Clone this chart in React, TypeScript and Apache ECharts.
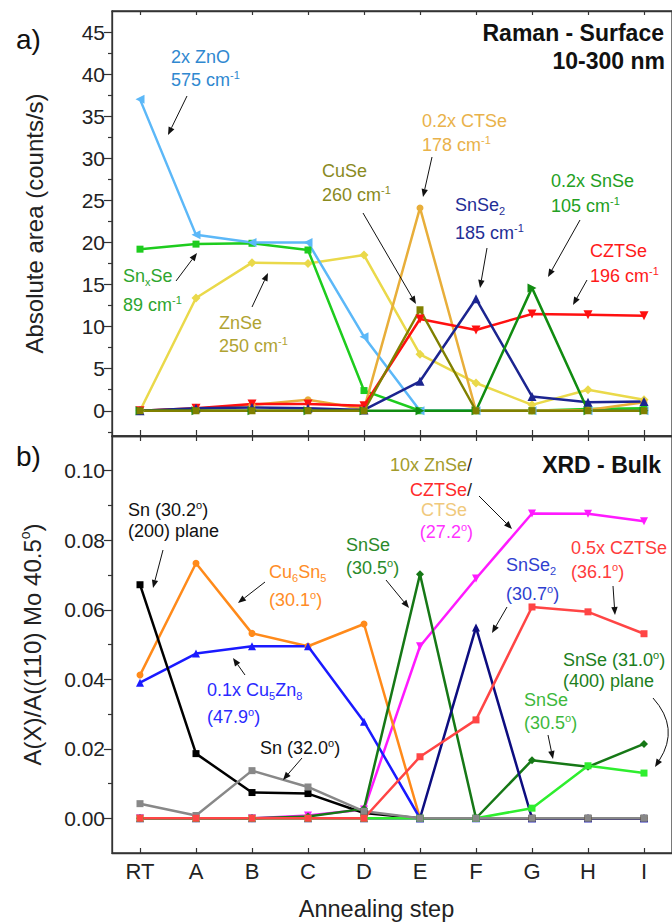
import React, { useEffect, useRef } from 'react';
import * as echarts from 'echarts';

const FONT = 'Arial, "Liberation Sans", Helvetica, sans-serif';

// Categories
const steps = ['RT', 'A', 'B', 'C', 'D', 'E', 'F', 'G', 'H', 'I'];

// a) Raman - Surface (counts/s)
const ramanZnO = [37, 20.9, 20.0, 20.0, 8.8, 0, 0, 0, 0, 0];
const ramanSnxSe = [19.2, 19.8, 19.9, 19.1, 2.4, 0, 0, 0, 0.2, 0.3];
const ramanZnSe = [0, 13.4, 17.6, 17.5, 18.5, 6.7, 3.3, 0.7, 2.5, 1.3];
const ramanCuSe = [0, 0, 0, 0, 0, 12.0, 0, 0, 0, 0];
const ramanCTSe = [0, 0.2, 0.7, 1.3, 0.2, 24.1, 0, 0, 0.1, 1.0];
const ramanSnSe2 = [0, 0.3, 0.4, 0.3, 0.1, 3.5, 13.3, 1.7, 1.0, 1.1];
const ramanSnSe = [0, 0, 0, 0, 0, 0, 0, 14.6, 0, 0];
const ramanCZTSe = [0, 0.3, 0.8, 0.8, 0.6, 10.9, 9.6, 11.5, 11.4, 11.3];

// b) XRD - Bulk (A(X)/A(Mo))
const xrdSn302 = [0.0672, 0.0186, 0.0074, 0.0071, 0.0015, 0, 0, 0, 0, 0];
const xrdSn320 = [0.0042, 0.0008, 0.0137, 0.009, 0.002, 0, 0, 0, 0, 0];
const xrdCu6Sn5 = [0.0412, 0.0734, 0.0532, 0.0495, 0.0559, 0, 0, 0, 0, 0];
const xrdCu5Zn8 = [0.039, 0.0474, 0.0495, 0.0495, 0.0278, 0, 0, 0, 0, 0];
const xrdSnSe305 = [0, 0, 0, 0.0005, 0.0027, 0.0702, 0, 0.0167, 0.0148, 0.0214];
const xrdSnSe2 = [0, 0, 0, 0, 0, 0, 0.0549, 0, 0, 0];
const xrdZnSeCZTSe = [0, 0, 0, 0.0008, 0.0025, 0.0495, 0.069, 0.0877, 0.0876, 0.0855];
const xrdCZTSe361 = [0, 0, 0, 0, 0, 0.0177, 0.0283, 0.0608, 0.0594, 0.0531];
const xrdSnSe310 = [0, 0, 0, 0, 0, 0, 0, 0.0029, 0.0151, 0.013];

// Tick values
const ramanTicks = [0, 5, 10, 15, 20, 25, 30, 35, 40, 45];
const ramanMinorTicks = [-2.5, 2.5, 7.5, 12.5, 17.5, 22.5, 27.5, 32.5, 37.5, 42.5];
const xrdTicks = [0, 0.02, 0.04, 0.06, 0.08, 0.1];
const xrdMinorTicks = [0.01, 0.03, 0.05, 0.07, 0.09];

const AX = '#333';

function richFor(color: string) {
  return {
    n: { fontSize: 18, fill: color, fontFamily: FONT, lineHeight: 22 },
    k: { fontSize: 18, fill: '#222', fontFamily: FONT, lineHeight: 22 },
    sup: { fontSize: 11, fill: color, fontFamily: FONT, verticalAlign: 'top' },
    sub: { fontSize: 11, fill: color, fontFamily: FONT, verticalAlign: 'bottom' },
  };
}

function label(x: number, y: number, text: string, color: string, align = 'left') {
  return {
    type: 'text',
    x,
    y,
    z: 100,
    style: {
      text,
      fill: color,
      fontSize: 18,
      fontFamily: FONT,
      align,
      verticalAlign: 'middle',
      rich: richFor(color),
    },
  };
}

function arrow(x1: number, y1: number, x2: number, y2: number) {
  const ang = Math.atan2(y2 - y1, x2 - x1);
  const head = 8;
  const hw = 3.2;
  const bx = x2 - head * Math.cos(ang);
  const by = y2 - head * Math.sin(ang);
  const px = -Math.sin(ang) * hw;
  const py = Math.cos(ang) * hw;
  return [
    { type: 'line', z: 100, shape: { x1, y1, x2: bx, y2: by }, style: { stroke: '#111', lineWidth: 1 } },
    {
      type: 'polygon',
      z: 100,
      shape: { points: [[x2, y2], [bx + px, by + py], [bx - px, by - py]] },
      style: { fill: '#111' },
    },
  ];
}

function curvedArrow(x1: number, y1: number, cx: number, cy: number, x2: number, y2: number) {
  const ang = Math.atan2(y2 - cy, x2 - cx);
  const head = 8;
  const hw = 3.2;
  const bx = x2 - head * Math.cos(ang);
  const by = y2 - head * Math.sin(ang);
  const px = -Math.sin(ang) * hw;
  const py = Math.cos(ang) * hw;
  return [
    {
      type: 'bezierCurve',
      z: 100,
      shape: { x1, y1, cpx1: cx, cpy1: cy, x2: bx, y2: by },
      style: { stroke: '#111', lineWidth: 1, fill: 'none' },
    },
    {
      type: 'polygon',
      z: 100,
      shape: { points: [[x2, y2], [bx + px, by + py], [bx - px, by - py]] },
      style: { fill: '#111' },
    },
  ];
}

function series(
  name: string,
  data: number[],
  color: string,
  symbol: string,
  panel: number,
  size = 7,
  rotate = 0
) {
  return {
    type: 'line',
    name,
    data,
    xAxisIndex: panel === 0 ? 0 : 2,
    yAxisIndex: panel === 0 ? 0 : 2,
    symbol,
    symbolSize: size,
    symbolRotate: rotate,
    showSymbol: true,
    itemStyle: { color },
    lineStyle: { color, width: 2.5 },
    emphasis: { disabled: true },
  };
}

function catAxis(grid: number, position: string, showLabels: boolean, tickLen: number) {
  return {
    type: 'category',
    gridIndex: grid,
    data: steps,
    position,
    offset: 0,
    boundaryGap: true,
    axisLine: { show: true, onZero: false, lineStyle: { color: AX, width: 1.3 } },
    axisTick: { show: true, inside: true, length: tickLen, alignWithLabel: true, interval: 0, lineStyle: { color: AX, width: 1.2 } },
    axisLabel: { show: showLabels, interval: 0, fontSize: 22, color: '#222', margin: 7, fontFamily: FONT },
    splitLine: { show: false },
  };
}

export default function App() {
  const ref = useRef<HTMLDivElement>(null);

  useEffect(() => {
    const chart = echarts.init(ref.current!, null, { renderer: 'svg' });

    const top = { left: 112, top: 11, width: 566, height: 425 };
    const bot = { left: 112, top: 436, width: 566, height: 425 };

    const graphics: any[] = [
      // panel letters
      { type: 'text', x: 16, y: 39, style: { text: 'a)', fontSize: 28, fontFamily: FONT, fill: '#111', verticalAlign: 'middle' } },
      { type: 'text', x: 16, y: 456, style: { text: 'b)', fontSize: 28, fontFamily: FONT, fill: '#111', verticalAlign: 'middle' } },
      // titles
      { type: 'text', x: 664, y: 33, z: 100, style: { text: 'Raman - Surface', fontSize: 23, fontWeight: 'bold', fontFamily: FONT, fill: '#111', align: 'right', verticalAlign: 'middle' } },
      { type: 'text', x: 665, y: 61, z: 100, style: { text: '10-300 nm', fontSize: 23, fontWeight: 'bold', fontFamily: FONT, fill: '#111', align: 'right', verticalAlign: 'middle' } },
      { type: 'text', x: 661, y: 465, z: 100, style: { text: 'XRD - Bulk', fontSize: 23, fontWeight: 'bold', fontFamily: FONT, fill: '#111', align: 'right', verticalAlign: 'middle' } },

      // a) annotations
      label(171, 57, '{n|2x ZnO}', '#2F88D0'),
      label(171, 80, '{n|575 cm}{sup|-1}', '#2F88D0'),
      label(123, 276, '{n|Sn}{sub|x}{n|Se}', '#2EA52E'),
      label(123, 305, '{n|89 cm}{sup|-1}', '#2EA52E'),
      label(219, 323, '{n|ZnSe}', '#B0A332'),
      label(219, 346, '{n|250 cm}{sup|-1}', '#B0A332'),
      label(322, 171, '{n|CuSe}', '#8A8A1E'),
      label(322, 195, '{n|260 cm}{sup|-1}', '#8A8A1E'),
      label(422, 121, '{n|0.2x CTSe}', '#E9B24A'),
      label(422, 145, '{n|178 cm}{sup|-1}', '#E9B24A'),
      label(455, 205, '{n|SnSe}{sub|2}', '#1F2E96'),
      label(455, 233, '{n|185 cm}{sup|-1}', '#1F2E96'),
      label(551, 181, '{n|0.2x SnSe}', '#23A023'),
      label(551, 206, '{n|105 cm}{sup|-1}', '#23A023'),
      label(590, 251, '{n|CZTSe}', '#FF1A1A'),
      label(590, 276, '{n|196 cm}{sup|-1}', '#FF1A1A'),
      ...arrow(187, 96, 168, 135),
      ...arrow(176, 281, 197, 253),
      ...arrow(252, 307, 268, 273),
      ...arrow(363, 213, 416, 304),
      ...arrow(432, 157, 423, 197),
      ...arrow(487, 248, 480, 288),
      ...arrow(580, 220, 548, 277),
      ...arrow(587, 280, 573, 305),

      // b) annotations
      label(128, 510, '{n|Sn (30.2}{sup|o}{n|)}', '#111'),
      label(128, 531, '{n|(200) plane}', '#111'),
      label(269, 572, '{n|Cu}{sub|6}{n|Sn}{sub|5}', '#FF8C26'),
      label(269, 600, '{n|(30.1}{sup|o}{n|)}', '#FF8C26'),
      label(207, 690, '{n|0.1x Cu}{sub|5}{n|Zn}{sub|8}', '#2A2AFF'),
      label(207, 717, '{n|(47.9}{sup|o}{n|)}', '#2A2AFF'),
      label(260, 748, '{n|Sn (32.0}{sup|o}{n|)}', '#111'),
      label(346, 545, '{n|SnSe}', '#2A8A2A'),
      label(346, 568, '{n|(30.5}{sup|o}{n|)}', '#2A8A2A'),
      label(472, 465, '{n|10x ZnSe}{k|/}', '#A39B2B', 'right'),
      label(472, 490, '{n|CZTSe}{k|/}', '#FF2B2B', 'right'),
      label(467, 510, '{n|CTSe}', '#F0C97C', 'right'),
      label(473, 532, '{n|(27.2}{sup|o}{n|)}', '#FF33FF', 'right'),
      label(506, 565, '{n|SnSe}{sub|2}', '#2F3FD0'),
      label(506, 594, '{n|(30.7}{sup|o}{n|)}', '#2F3FD0'),
      label(571, 548, '{n|0.5x CZTSe}', '#FF3B3B'),
      label(571, 572, '{n|(36.1}{sup|o}{n|)}', '#FF3B3B'),
      label(563, 660, '{n|SnSe (31.0}{sup|o}{n|)}', '#207E20'),
      label(563, 681, '{n|(400) plane}', '#207E20'),
      label(524, 700, '{n|SnSe}', '#3DB83D'),
      label(524, 723, '{n|(30.5}{sup|o}{n|)}', '#3DB83D'),
      ...arrow(163, 550, 153, 588),
      ...arrow(265, 582, 238, 603),
      ...arrow(245, 675, 233, 658),
      ...arrow(302, 758, 283, 780),
      ...arrow(386, 580, 409, 608),
      ...arrow(479, 496, 512, 529),
      ...arrow(507, 607, 492, 633),
      ...arrow(613, 586, 615, 615),
      ...curvedArrow(653, 698, 680, 728, 655, 767),
      ...arrow(548, 735, 553, 759),
    ];

    const option: any = {
      animation: false,
      backgroundColor: '#fff',
      textStyle: { fontFamily: FONT },
      grid: [
        { ...top, containLabel: false, show: true, borderColor: AX, borderWidth: 1.3, backgroundColor: 'transparent' },
        { ...bot, containLabel: false, show: true, borderColor: AX, borderWidth: 1.3, backgroundColor: 'transparent' },
      ],
      xAxis: [
        catAxis(0, 'bottom', false, 6),
        catAxis(0, 'top', false, 4),
        {
          ...catAxis(1, 'bottom', true, 5),
          name: 'Annealing step',
          nameLocation: 'middle',
          nameGap: 44,
          nameTextStyle: { fontSize: 23.5, color: '#222', fontFamily: FONT, padding: [0, 31, 0, 0] },
        },
        catAxis(1, 'top', false, 5),
      ],
      yAxis: [
        {
          type: 'value',
          gridIndex: 0,
          position: 'left',
          min: -3,
          max: 47.5,
          axisLine: { show: true, onZero: false, lineStyle: { color: AX, width: 1.3 } },
          axisTick: { show: true, length: 8, customValues: ramanTicks, lineStyle: { color: AX, width: 1.2 } },
          axisLabel: { customValues: ramanTicks, fontSize: 21, color: '#222', margin: 7, fontFamily: FONT },
          splitLine: { show: false },
          name: 'Absolute area (counts/s)',
          nameLocation: 'middle',
          nameGap: 66,
          nameTextStyle: { fontSize: 24, color: '#222', fontFamily: FONT },
        },
        {
          type: 'value',
          gridIndex: 0,
          position: 'left',
          min: -3,
          max: 47.5,
          axisLine: { show: false, onZero: false },
          axisTick: { show: true, length: 4, customValues: ramanMinorTicks, lineStyle: { color: AX, width: 1.2 } },
          axisLabel: { show: false },
          splitLine: { show: false },
        },
        {
          type: 'value',
          gridIndex: 1,
          position: 'left',
          min: -0.01,
          max: 0.11,
          axisLine: { show: true, onZero: false, lineStyle: { color: AX, width: 1.3 } },
          axisTick: { show: true, length: 8, customValues: xrdTicks, lineStyle: { color: AX, width: 1.2 } },
          axisLabel: {
            customValues: xrdTicks,
            fontSize: 21,
            color: '#222',
            margin: 7,
            fontFamily: FONT,
            formatter: (v: number) => v.toFixed(2),
          },
          splitLine: { show: false },
          name: '{t|A(X)/A((110) Mo 40.5}{s|o}{t|)}',
          nameLocation: 'middle',
          nameGap: 66,
          nameTextStyle: {
            fontSize: 24,
            color: '#222',
            fontFamily: FONT,
            rich: {
              t: { fontSize: 24, color: '#222', fontFamily: FONT, lineHeight: 28 },
              s: { fontSize: 14, color: '#222', fontFamily: FONT, verticalAlign: 'top' },
            },
          },
        },
        {
          type: 'value',
          gridIndex: 1,
          position: 'left',
          min: -0.01,
          max: 0.11,
          axisLine: { show: false, onZero: false },
          axisTick: { show: true, length: 4, customValues: xrdMinorTicks, lineStyle: { color: AX, width: 1.2 } },
          axisLabel: { show: false },
          splitLine: { show: false },
        },
      ],
      series: [
        // a) Raman
        series('ZnSe 250', ramanZnSe, '#EAD94A', 'diamond', 0, 9),
        series('SnxSe 89', ramanSnxSe, '#1ECC1E', 'rect', 0, 7),
        series('2x ZnO 575', ramanZnO, '#5CB8F8', 'triangle', 0, 9, 90),
        series('0.2x CTSe 178', ramanCTSe, '#E8AE3A', 'circle', 0, 7),
        series('CZTSe 196', ramanCZTSe, '#FF1010', 'triangle', 0, 9, 180),
        series('SnSe2 185', ramanSnSe2, '#1C2590', 'triangle', 0, 9),
        series('0.2x SnSe 105', ramanSnSe, '#118C11', 'triangle', 0, 9, -90),
        series('CuSe 260', ramanCuSe, '#808000', 'rect', 0, 7),
        // b) XRD
        series('10x ZnSe/CZTSe/CTSe 27.2', xrdZnSeCZTSe, '#FF1AFF', 'triangle', 1, 8, 180),
        series('Cu6Sn5 30.1', xrdCu6Sn5, '#FF8A1A', 'circle', 1, 7),
        series('0.1x Cu5Zn8 47.9', xrdCu5Zn8, '#1A1AFF', 'triangle', 1, 8),
        series('Sn 30.2', xrdSn302, '#000000', 'rect', 1, 7),
        series('SnSe 30.5', xrdSnSe305, '#167816', 'diamond', 1, 8),
        series('SnSe2 30.7', xrdSnSe2, '#0D0D80', 'triangle', 1, 8),
        series('SnSe 31.0', xrdSnSe310, '#2EEE2E', 'rect', 1, 7),
        series('Sn 32.0', xrdSn320, '#888888', 'rect', 1, 7),
        series('0.5x CZTSe 36.1', xrdCZTSe361, '#FF4545', 'rect', 1, 7),
      ],
      graphic: graphics,
    };

    chart.setOption(option);
    return () => chart.dispose();
  }, []);

  return (
    <div
      ref={ref}
      style={{ position: 'absolute', left: 0, top: 0, width: 672, height: 922, background: '#fff' }}
    />
  );
}
